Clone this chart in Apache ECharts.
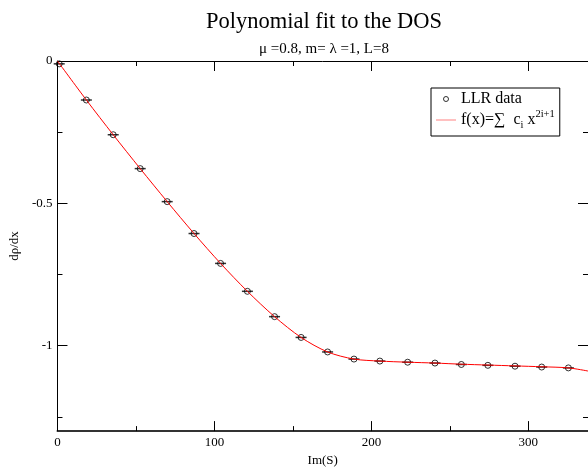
<!DOCTYPE html>
<html>
<head>
<meta charset="utf-8">
<script src="https://cdn.jsdelivr.net/npm/echarts@6/dist/echarts.min.js"></script>
<style>
  html, body { margin: 0; padding: 0; background: #fff; }
  #chart { width: 588px; height: 472px; }
</style>
</head>
<body>
<div id="chart"></div>
<script>
// LLR data points (Im(S), dρ/dx)
const imS = [1.1, 18.4, 35.5, 52.7, 69.9, 87.0, 103.9, 121.0, 138.3, 155.2,
  172.1, 188.9, 205.4, 223.1, 240.5, 257.3, 274.2, 291.5, 308.5, 325.5];
const llrData = [-0.010, -0.137, -0.259, -0.378, -0.494, -0.606, -0.711, -0.809, -0.898, -0.971,
  -1.022, -1.047, -1.054, -1.058, -1.061, -1.066, -1.069, -1.072, -1.075, -1.078];

// polynomial fit curve
const fitX = [0, 18.4, 35.5, 52.7, 69.9, 87.0, 103.9, 121.0, 138.3, 155.2,
  172.1, 188.9, 205.4, 223.1, 240.5, 257.3, 274.2, 291.5, 308.5, 325.5, 338];
const fitY = [0, -0.137, -0.259, -0.378, -0.494, -0.606, -0.711, -0.809, -0.898, -0.971,
  -1.022, -1.047, -1.054, -1.058, -1.061, -1.065, -1.068, -1.071, -1.074, -1.078, -1.089];

// ticks
const xMajor = [0, 100, 200, 300];
const xMinor = [50, 150, 250];
const yMajor = [0, -0.5, -1];
const yMinor = [-0.25, -0.75, -1.25];

const X_MIN = 0, X_MAX = 338;
const Y_MIN = -1.3, Y_MAX = 0;

const serif = 'Liberation Serif';
const FIT_NAME = 'fit';

const chart = echarts.init(document.getElementById('chart'));

function tickAxis(position, values, len, lineShow, lineWidth, isX) {
  return {
    type: 'value',
    position: position,
    min: isX ? X_MIN : Y_MIN,
    max: isX ? X_MAX : Y_MAX,
    axisLine: { show: lineShow, onZero: false, lineStyle: { color: '#000', width: lineWidth } },
    axisTick: { show: true, inside: true, length: len, customValues: values, lineStyle: { color: '#000', width: 1 } },
    axisLabel: { show: false },
    splitLine: { show: false }
  };
}

const bottomAxis = tickAxis('bottom', xMajor, 10, true, 2, true);
bottomAxis.axisLine.lineStyle.color = '#333';
bottomAxis.axisLabel = { show: true, customValues: xMajor, margin: 5, color: '#000', fontFamily: serif, fontSize: 13 };
bottomAxis.name = 'Im(S)';
bottomAxis.nameLocation = 'middle';
bottomAxis.nameGap = 21;
bottomAxis.nameTextStyle = { color: '#000', fontFamily: serif, fontSize: 13 };

const leftAxis = tickAxis('left', yMajor, 10, true, 1, false);
leftAxis.axisLabel = { show: true, customValues: yMajor, margin: 5, color: '#000', fontFamily: serif, fontSize: 13 };
leftAxis.name = 'dρ/dx';
leftAxis.nameLocation = 'middle';
leftAxis.nameGap = 34;
leftAxis.nameTextStyle = { color: '#000', fontFamily: serif, fontSize: 13 };

const option = {
  animation: false,
  backgroundColor: '#fff',
  title: {
    text: 'Polynomial fit to the DOS',
    subtext: 'μ =0.8, m= λ =1, L=8',
    left: 319,
    textAlign: 'center',
    top: 6,
    itemGap: 8,
    textStyle: { color: '#000', fontFamily: serif, fontSize: 22.5, fontWeight: 'normal' },
    subtextStyle: { color: '#000', fontFamily: serif, fontSize: 15 }
  },
  grid: { left: 55, right: -1, top: 61, bottom: 36 },
  legend: {
    orient: 'vertical',
    left: 431,
    top: 88,
    padding: [3, 5, 5, 5],
    itemGap: 2,
    itemWidth: 20,
    itemHeight: 5,
    borderColor: '#000',
    borderWidth: 1,
    data: [
      { name: 'LLR data', icon: 'circle', itemStyle: { color: 'rgba(0,0,0,0)', borderColor: '#000', borderWidth: 1 } },
      { name: FIT_NAME, icon: 'path://M0,0 H40 V1 H0 Z', itemStyle: { color: '#ff0000', borderWidth: 0 } }
    ],
    formatter: function (name) {
      if (name === FIT_NAME) return '{n|f(x)=∑  c}{sub|i}{n| x}{sup|2i+1}';
      return '{m|' + name + '}';
    },
    textStyle: {
      color: '#000', fontFamily: serif, fontSize: 16,
      rich: {
        m: { fontFamily: serif, fontSize: 16, lineHeight: 16, color: '#000' },
        n: { fontFamily: serif, fontSize: 16, lineHeight: 22, verticalAlign: 'middle', color: '#000' },
        sub: { fontFamily: serif, fontSize: 10.5, lineHeight: 10, verticalAlign: 'bottom', color: '#000' },
        sup: { fontFamily: serif, fontSize: 10.5, lineHeight: 10, verticalAlign: 'top', color: '#000' }
      }
    }
  },
  xAxis: [
    bottomAxis,
    tickAxis('bottom', xMinor, 5, false, 1, true),
    tickAxis('top', xMajor, 10, true, 1, true),
    tickAxis('top', xMinor, 5, false, 1, true)
  ],
  yAxis: [
    leftAxis,
    tickAxis('left', yMinor, 5, false, 1, false),
    tickAxis('right', yMajor, 10, true, 1, false),
    tickAxis('right', yMinor, 5, false, 1, false)
  ],
  series: [
    {
      name: 'errbar',
      type: 'scatter',
      silent: true,
      symbol: 'rect',
      symbolSize: [11, 1.5],
      itemStyle: { color: '#000' },
      z: 2,
      data: imS.map((x, i) => [x, llrData[i]])
    },
    {
      name: 'LLR data',
      type: 'scatter',
      symbol: 'circle',
      symbolSize: 6,
      itemStyle: { color: 'rgba(0,0,0,0)', borderColor: '#000', borderWidth: 1 },
      z: 3,
      data: imS.map((x, i) => [x, llrData[i]])
    },
    {
      name: FIT_NAME,
      type: 'line',
      symbol: 'none',
      smooth: 0.3,
      lineStyle: { color: '#ff0000', width: 1 },
      itemStyle: { color: '#ff0000' },
      z: 4,
      data: fitX.map((x, i) => [x, fitY[i]])
    }
  ]
};

chart.setOption(option);
</script>
</body>
</html>
